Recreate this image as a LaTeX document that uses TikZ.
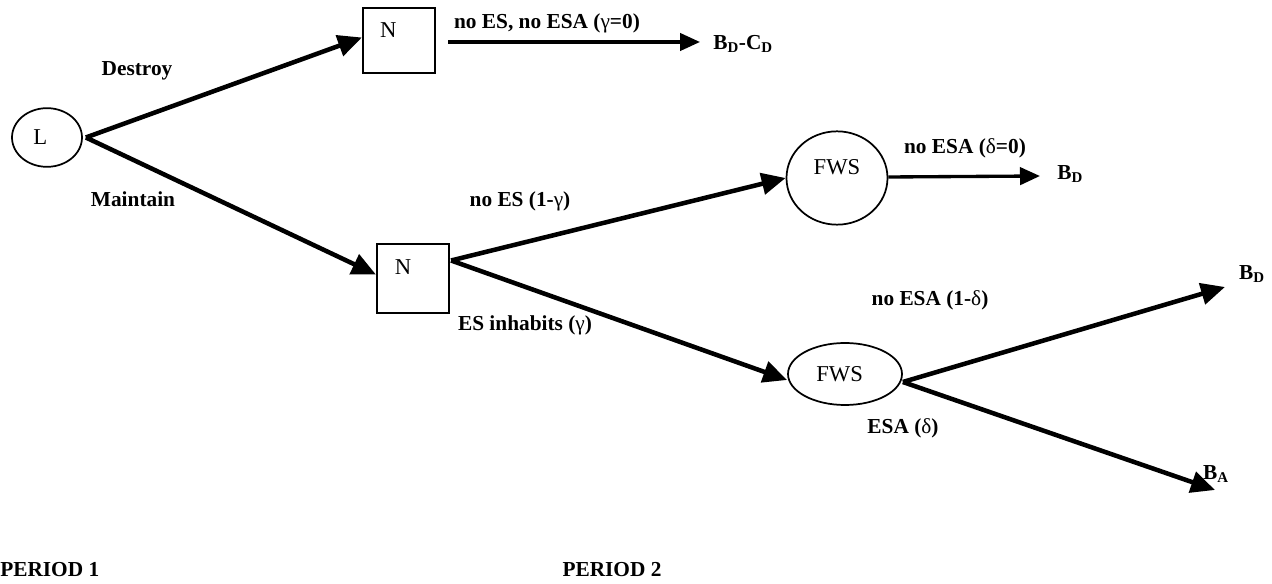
\documentclass[tikz,border=0pt]{standalone}
\usepackage{fontspec}
\setmainfont{Liberation Serif}
\usetikzlibrary{arrows.meta,shapes.geometric,calc}
\newcommand{\gsym}[1]{{\mdseries #1}}
\begin{document}
\begin{tikzpicture}[x=0.75pt,y=-0.75pt,
  lbl/.style={font=\fontsize{16}{19}\selectfont\bfseries, inner sep=0pt},
  nfont/.style={font=\fontsize{17}{20}\selectfont},
  box/.style={draw, line width=1.6pt, minimum width=54pt, inner sep=0pt},
  oval/.style={draw, ellipse, line width=1.3pt, inner sep=0pt, nfont},
  arr/.style={line width=3.4pt, -{Triangle[length=18pt,width=16pt]}},
  harr/.style={line width=2.5pt, -{Triangle[length=15pt,width=13pt]}}
]
\useasboundingbox (0,0) rectangle (1272,584);

% decision / chance nodes
\node[oval, minimum width=52.5pt, minimum height=44pt,
      label={[nfont, shift={(-5pt,0pt)}]center:L}] (L) at (47,137.5) {};
\node[box, minimum height=48.75pt,
      label={[nfont, shift={(-8pt,8pt)}]center:N}] (n1) at (399,40.5) {};
\node[box, minimum height=52pt,
      label={[nfont, shift={(-7.5pt,8.5pt)}]center:N}] (n2) at (413,278.5) {};
\node[oval, minimum width=75.75pt, minimum height=70pt,
      label={[nfont, shift={(0pt,8pt)}]center:FWS}] (fws1) at (837,178) {};
\node[oval, minimum width=85.5pt, minimum height=46.5pt,
      label={[nfont, shift={(-4pt,0pt)}]center:FWS}] (fws2) at (845,374) {};

% terminal payoffs
\node[lbl, anchor=west] (t1) at (713,44) {B\textsubscript{D}-C\textsubscript{D}};
\node[lbl, anchor=west] (bd1) at (1057,174) {B\textsubscript{D}};
\node[lbl] (bd2) at (1252,274) {B\textsubscript{D}};
\node[lbl] (ba) at (1216,474) {B\textsubscript{A}};

% connectors
\draw[arr] ($(L.east)+(3,0)$) -- ($(n1.west)+(0,-3)$);
\draw[arr] ($(L.east)+(3,0)$) -- ($(n2.west)+(0,-4)$);
\draw[harr] ($(n1.east)+(12,1.5)$) -- ($(t1.west)+(-13,-2)$);
\draw[arr] ($(n2.east)+(1,-18)$) -- (fws1.west);
\draw[arr] ($(n2.east)+(1,-18)$) -- ($(fws2.west)+(0,6)$);
\draw[harr] ($(fws1.east)+(0,-1)$) -- ($(bd1.west)+(-17,2)$);
\draw[arr] ($(fws2.east)+(0,8)$) -- ($(bd2)+(-27,13)$);
\draw[arr] ($(fws2.east)+(0,8)$) -- ($(ba)+(-1,16)$);

% edge labels
\node[lbl] (lDestroy) at (137,71) {Destroy};
\node[lbl] (lMaintain) at (133,199) {Maintain};
\node[lbl] (lnoesesa) at (547,23) {no ES, no ESA (\gsym{γ}=0)};
\node[lbl] (lnoes) at (520,201) {no ES (1-\gsym{γ})};
\node[lbl] (lesinh) at (525,325) {ES inhabits (\gsym{γ})};
\node[lbl] (lnoesa0) at (965,148) {no ESA (\gsym{δ}=0)};
\node[lbl] (lnoesa1) at (930,300) {no ESA (1-\gsym{δ})};
\node[lbl] (lesa) at (903,428) {ESA (\gsym{δ})};

% period labels
\node[lbl, anchor=west] (p1) at (0,570) {PERIOD 1};
\node[lbl] (p2) at (612,570) {PERIOD 2};
\end{tikzpicture}
\end{document}
